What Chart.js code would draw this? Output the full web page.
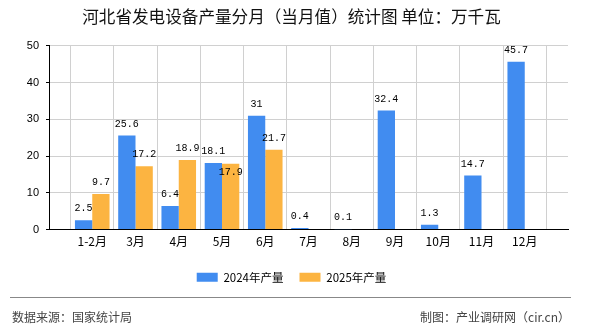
<!DOCTYPE html>
<html>
<head>
<meta charset="utf-8">
<script src="https://cdn.jsdelivr.net/npm/chart.js@4"></script>
<style>
  html, body { margin: 0; padding: 0; background: #fff; }
  #wrap { position: relative; width: 590px; height: 330px; }
  #chart { position: absolute; left: 0; top: 0; }
  .foot { position: absolute; font: 12px "Noto Sans CJK SC", sans-serif; color: #444; top: 309px; line-height: 16px; }
  #rule { position: absolute; left: 10px; top: 297px; width: 561px; height: 0; border-top: 1px solid #888; }
</style>
</head>
<body>
<div id="wrap">
  <canvas id="chart" width="590" height="330"></canvas>
  <div id="rule"></div>
  <div class="foot" style="left:12px">数据来源：国家统计局</div>
  <div class="foot" style="right:20px">制图：产业调研网（cir.cn）</div>
</div>
<script>
  // 河北省发电设备产量（万千瓦）
  const months = ["1-2月", "3月", "4月", "5月", "6月", "7月", "8月", "9月", "10月", "11月", "12月"];
  const output2024 = [2.5, 25.6, 6.4, 18.1, 31, 0.4, 0.1, 32.4, 1.3, 14.7, 45.7];
  const output2025 = [9.7, 17.2, 18.9, 17.9, 21.7, null, null, null, null, null, null];
  const yTicks = [0, 10, 20, 30, 40, 50];

  // empty slot on each side so the groups sit on the grid lines
  const pad = arr => [null].concat(arr, [null]);

  // value text above each bar; a label that would collide with one
  // already drawn is pushed down into the top of its bar
  const barValues = {
    id: "barValues",
    afterDatasetsDraw(chart) {
      const ctx = chart.ctx;
      ctx.save();
      ctx.font = "10px 'Liberation Mono', monospace";
      ctx.fillStyle = "#000";
      ctx.textAlign = "center";
      ctx.textBaseline = "alphabetic";
      const boxes = [];
      const hits = b => boxes.some(o => b.x1 < o.x2 && b.x2 > o.x1 && b.y1 < o.y2 && b.y2 > o.y1);
      chart.data.datasets.forEach((ds, i) => {
        const meta = chart.getDatasetMeta(i);
        meta.data.forEach((bar, j) => {
          const v = ds.data[j];
          if (v === null || v === undefined) return;
          const text = String(v);
          const w = ctx.measureText(text).width;
          let y = bar.y - 9;
          let box = { x1: bar.x - w / 2, x2: bar.x + w / 2, y1: y - 8, y2: y };
          if (hits(box)) {
            y = bar.y + 11;
            box = { x1: box.x1, x2: box.x2, y1: y - 8, y2: y };
          }
          boxes.push(box);
          ctx.fillText(text, bar.x, y);
        });
      });
      ctx.restore();
    }
  };

  const ctx = document.getElementById("chart").getContext("2d");
  const myChart = new Chart(ctx, {
    type: "bar",
    data: {
      labels: pad(months).map(m => m || ""),
      datasets: [
        {
          label: "2024年产量",
          data: pad(output2024),
          backgroundColor: "#418CF0",
          categoryPercentage: 0.8,
          barPercentage: 1.0,
        },
        {
          label: "2025年产量",
          data: pad(output2025),
          backgroundColor: "#FCB441",
          categoryPercentage: 0.8,
          barPercentage: 1.0,
        },
      ],
    },
    options: {
      responsive: false,
      animation: false,
      layout: { padding: { left: 15, right: 22, top: 0, bottom: 37 } },
      plugins: {
        title: {
          display: true,
          text: "河北省发电设备产量分月（当月值）统计图 单位：万千瓦",
          color: "#111",
          font: { family: "'Noto Sans CJK SC'", size: 16.6, weight: "normal" },
          padding: { top: 7, bottom: 19 },
        },
        legend: {
          position: "bottom",
          labels: {
            boxWidth: 21,
            boxHeight: 9,
            color: "#000",
            font: { family: "'Noto Sans CJK SC'", size: 11.5 },
            padding: 16,
          },
        },
        tooltip: { enabled: false },
      },
      scales: {
        x: {
          offset: false,
          afterFit(scale) {
            scale.height = 26;
          },
          grid: { color: "#d0d0d0", drawTicks: false },
          border: { color: "#000" },
          ticks: {
            color: "#000",
            padding: 5,
            autoSkip: false,
            maxRotation: 0,
            font: { family: "'Noto Sans CJK SC'", size: 12 },
          },
        },
        y: {
          min: 0,
          max: 50,
          afterBuildTicks(scale) {
            scale.ticks = yTicks.map(v => ({ value: v }));
          },
          afterFit(scale) {
            scale.width = 34;
          },
          grid: { color: "#d0d0d0", tickColor: "#000", tickLength: 3 },
          border: { color: "#000" },
          ticks: {
            color: "#000",
            padding: 7,
            font: { family: "'Liberation Sans'", size: 11 },
          },
        },
      },
    },
    plugins: [barValues],
  });
</script>
</body>
</html>
